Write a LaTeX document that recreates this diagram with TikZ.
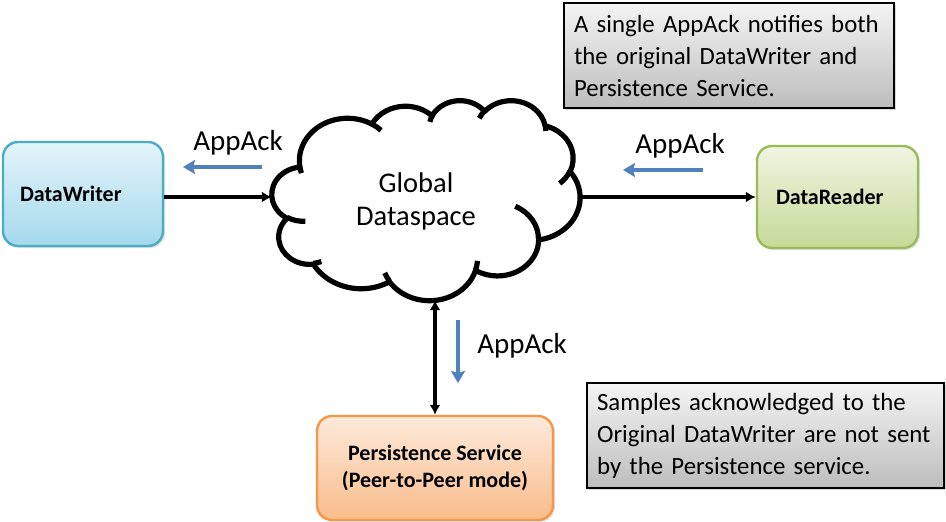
\documentclass[tikz,border=0pt]{standalone}
\usepackage{fontspec}
\setmainfont{Carlito}
\usetikzlibrary{arrows.meta,shadows}
\definecolor{ackblue}{HTML}{4F81BD}
\definecolor{dwborder}{HTML}{4BACC6}
\definecolor{dwtop}{HTML}{E4F4FA}
\definecolor{dwbot}{HTML}{A4D9EC}
\definecolor{drborder}{HTML}{9BBB59}
\definecolor{drtop}{HTML}{F0F5E2}
\definecolor{drbot}{HTML}{C5DA98}
\definecolor{psborder}{HTML}{F79646}
\definecolor{pstop}{HTML}{FDEADB}
\definecolor{psbot}{HTML}{F9BC8A}
\definecolor{ntop}{HTML}{F4F4F4}
\definecolor{nbot}{HTML}{BDBDBD}
\tikzset{
  box/.style={draw, line width=2.4pt, rounded corners=15pt, drop shadow={opacity=0.25, shadow xshift=2pt, shadow yshift=-2pt}, font=\fontsize{22}{27}\selectfont\bfseries},
  note/.style={draw=black, line width=2.2pt, top color=ntop, bottom color=nbot, drop shadow={opacity=0.3, shadow xshift=2pt, shadow yshift=-2pt}, align=left, anchor=north west, inner sep=0pt, font=\fontsize{24.8}{32}\selectfont},
  lbl/.style={font=\fontsize{29}{33}\selectfont},
  ack/.style={draw=ackblue, line width=4.6pt, -{Stealth[length=12pt,width=14pt,inset=2pt]}},
  flow/.style={draw=black, line width=4.4pt, -{Latex[length=10pt,width=11pt]}},
  cloudline/.style={draw=black, line width=5.2pt, line join=round}
}
\begin{document}
\begin{tikzpicture}[x=1pt,y=-1pt]
\useasboundingbox (0,0) rectangle (946,522);
% boxes
\node[box, draw=dwborder, top color=dwtop, bottom color=dwbot, minimum width=160pt, minimum height=104pt, text width=126pt, align=left, inner xsep=17pt] (dw) at (83,194) {DataWriter};
\node[box, draw=drborder, top color=drtop, bottom color=drbot, minimum width=161pt, minimum height=102pt, text width=123pt, align=left, inner xsep=19pt] (dr) at (837.5,197) {DataReader};
\node[box, draw=psborder, top color=pstop, bottom color=psbot, minimum width=236pt, minimum height=104pt, align=center] (ps) at (435,468) {Persistence Service\\(Peer-to-Peer mode)};
% cloud (PowerPoint cloud outline, 4320x4320 units scaled into 308x200)
\node[minimum width=308pt, minimum height=200pt, inner sep=0pt] (cl) at (426,200) {};
\begin{scope}[shift={(272,100)}, x=0.071296pt, y=-0.046296pt]
\fill[white] (390,1437)
 \foreach \w/\h/\s/\d in {675.3/919.0/-190.4875/123.7805, 533.3/726.7/-144.1024/89.9452, 436.5/594.5/-145.8079/99.7230, 485.7/659.5/-130.9861/117.2417, 533.3/727.3/-78.7089/109.0269, 677.5/922.0/-46.2673/130.2690, 578.5/786.7/0.6250/114.0333, 675.2/921.5/22.4516/115.1726, 772.0/1054.3/66.2426/75.7110, 436.0/591.8/-274.9421/146.7356, 434.5/594.5/-246.8285/152.5189}
 { arc[x radius=\w, y radius=\h, start angle={atan2(\w*sin(\s),\h*cos(\s))}, delta angle={mod(atan2(\w*sin(\s+\d),\h*cos(\s+\d))-atan2(\w*sin(\s),\h*cos(\s))+720,360)}] } -- cycle;
\draw[cloudline] (390,1437)
 \foreach \w/\h/\s/\d in {675.3/919.0/-190.4875/123.7805, 533.3/726.7/-144.1024/89.9452, 436.5/594.5/-145.8079/99.7230, 485.7/659.5/-130.9861/117.2417, 533.3/727.3/-78.7089/109.0269, 677.5/922.0/-46.2673/130.2690, 578.5/786.7/0.6250/114.0333, 675.2/921.5/22.4516/115.1726, 772.0/1054.3/66.2426/75.7110, 436.0/591.8/-274.9421/146.7356, 434.5/594.5/-246.8285/152.5189}
 { arc[x radius=\w, y radius=\h, start angle={atan2(\w*sin(\s),\h*cos(\s))}, delta angle={mod(atan2(\w*sin(\s+\d),\h*cos(\s+\d))-atan2(\w*sin(\s),\h*cos(\s))+720,360)}] } -- cycle;
\foreach \x/\y/\w/\h/\s/\d in {469.3/2617.7/434.5/594.5/86.7420/26.4295, 692.8/3489.9/436.0/591.8/73.6105/11.4475, 1647.8/3909.0/675.2/921.5/137.6242/14.0811, 2882.7/3475.1/675.2/921.5/6.4533/15.9984, 3412.9/2295.4/578.5/786.7/-70.2924/70.9174, 4179.8/1535.4/533.3/727.3/30.3180/27.7515, 3832.4/542.6/485.7/659.5/-13.7443/14.8589, 2907.8/395.2/485.7/659.5/-149.1815/18.1954, 2214.1/472.0/436.5/594.5/-163.4943/17.6864, 1400.0/519.2/675.3/919.0/-66.7070/12.3194, 412.7/1578.9/675.3/919.0/157.6544/11.8582}
 { \draw[cloudline] (\x,\y) arc[x radius=\w, y radius=\h, start angle={atan2(\w*sin(\s),\h*cos(\s))}, delta angle={mod(atan2(\w*sin(\s+\d),\h*cos(\s+\d))-atan2(\w*sin(\s),\h*cos(\s))+720,360)}]; }
\end{scope}
\node[font=\fontsize{28.5}{33}\selectfont, align=center] (gd) at (416,201) {Global\\Dataspace};
% notes
\node[note, minimum width=330pt, minimum height=105pt, text width=310pt, inner xsep=10pt, inner ysep=5pt] (n1) at (563,2) {A single AppAck notifies both\\the original DataWriter and\\Persistence Service.};
\node[note, minimum width=357pt, minimum height=105pt, text width=337pt, inner xsep=10pt, inner ysep=5pt] (n2) at (586,382) {Samples acknowledged to the\\Original DataWriter are not sent\\by the Persistence service.};
% flows
\draw[flow] (dw.east |- 0,197) -- (cl.west |- 0,197);
\draw[flow] (cl.east |- 0,197) -- (dr.west |- 0,197);
\draw[flow, {Latex[length=10pt,width=11pt]}-{Latex[length=10pt,width=11pt]}] (cl.south -| ps.north) -- (ps.north);
% acks
\coordinate (a1s) at (262,167); \coordinate (a1e) at (183,167);
\draw[ack] (a1s) -- (a1e);
\node[lbl] (l1) at (238,143) {AppAck};
\coordinate (a2s) at (703,170); \coordinate (a2e) at (623,170);
\draw[ack] (a2s) -- (a2e);
\node[lbl] (l2) at (680,146) {AppAck};
\coordinate (a3s) at (458,320); \coordinate (a3e) at (458,383);
\draw[ack] (a3s) -- (a3e);
\node[lbl] (l3) at (522,346) {AppAck};
\end{tikzpicture}
\end{document}
